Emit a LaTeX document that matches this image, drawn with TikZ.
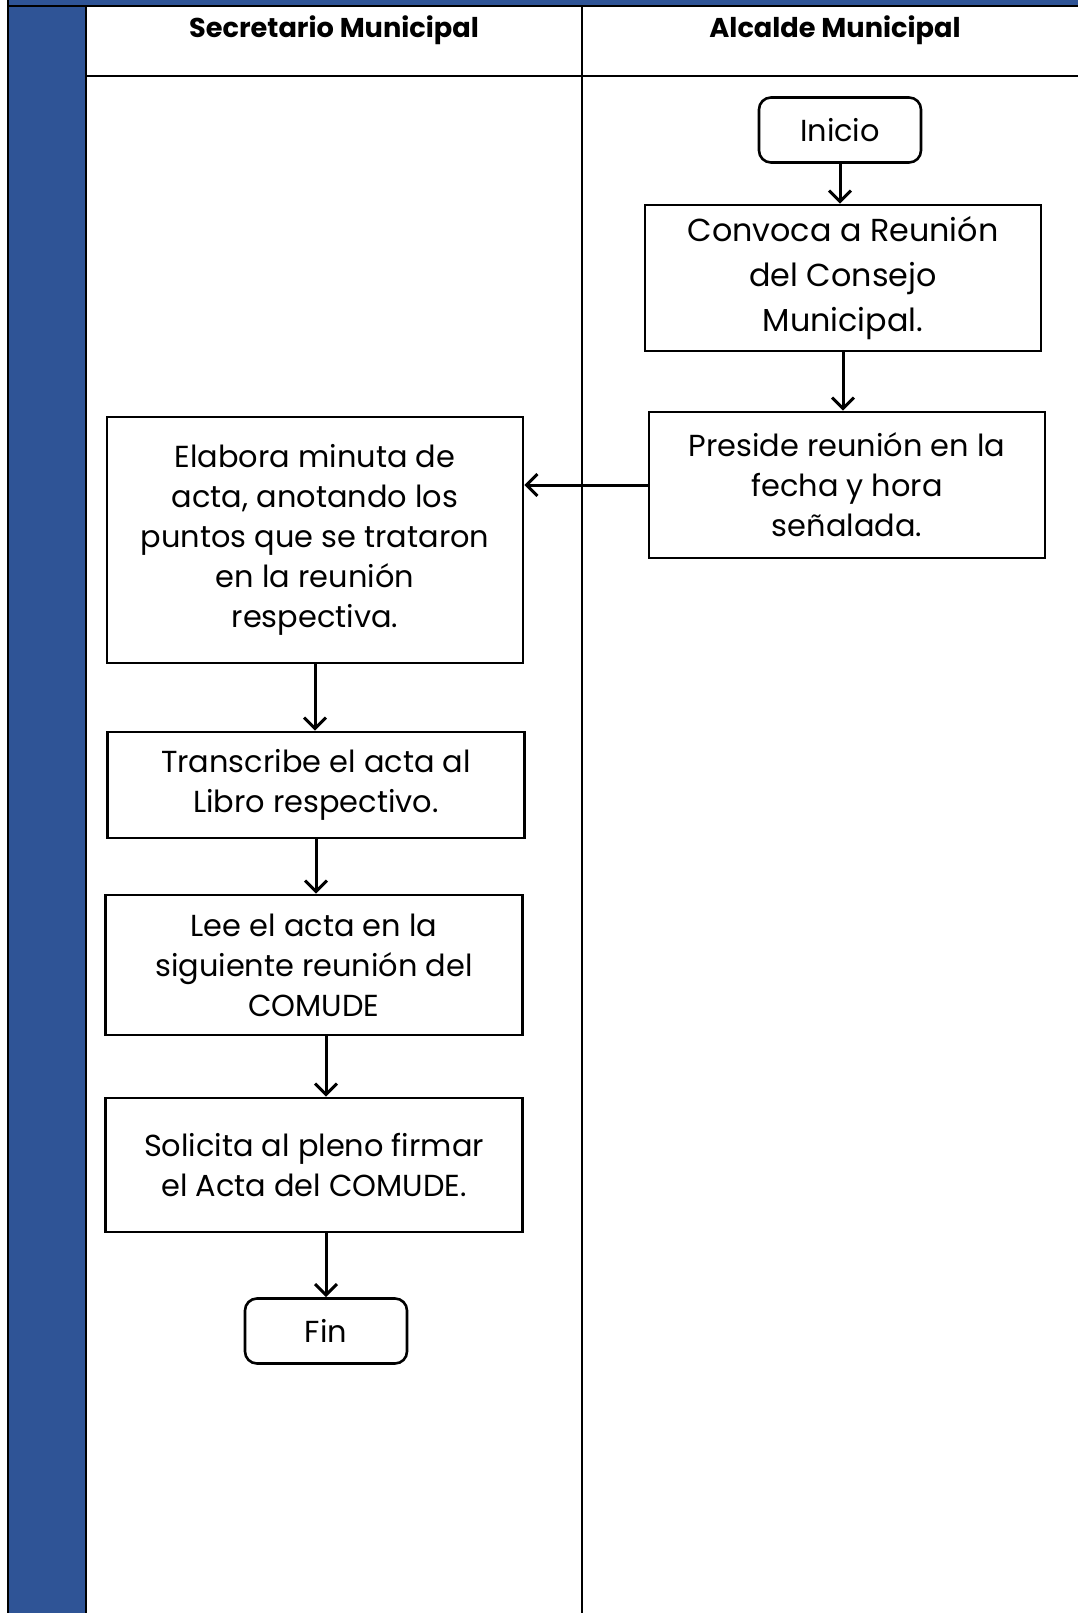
\documentclass[tikz,border=0pt]{standalone}
\usepackage{fontspec}
\setmainfont{Poppins}
\usetikzlibrary{arrows.meta}
\definecolor{azul}{RGB}{47,84,150}
\begin{document}
\begin{tikzpicture}[x=0.5pt,y=-0.5pt
	,paso/.style={
	rectangle
	,draw
	,line width=1.3pt
	,align=center
	,inner sep=0
	,font=\fontsize{15.2}{20}\selectfont
}
	,limite/.style={
	paso
	,rounded corners=6pt
	,minimum width=81pt
	,minimum height=32.5pt
}
	,carril/.style={
	font=\bfseries\fontsize{13.6}{16}\selectfont
}
	,flujo/.style={
	-{Straight Barb[length=5.5pt,width=11pt,line width=1.5pt]}
	,line width=1.5pt
}
	,linea/.style={line width=1.1pt}
]

\useasboundingbox (0,0) rectangle (1078,1613);

\fill[azul] (8,0) rectangle (1078,6);
\fill[azul] (8,6) rectangle (86,1613);
\draw[linea] (8,0) -- (8,1613);
\draw[linea] (8,6) -- (1078,6);
\draw[linea] (86,6) -- (86,1613);
\draw[linea] (582,6) -- (582,1613);
\draw[linea] (86,76) -- (1078,76);

\node[carril](sec) at(334,30) {Secretario Municipal};
\node[carril](alc) at(835,30) {Alcalde Municipal};

\node[limite](ini) at(840,130) {Inicio};
\node[paso, minimum width=198pt, minimum height=73pt
	,font=\fontsize{15.9}{22.5}\selectfont](conv) at(843,278) {Convoca a Reunión\\del Consejo\\Municipal.};
\node[paso, minimum width=198pt, minimum height=73pt](pres) at(847,485) {Preside reunión en la\\fecha y hora\\señalada.};
\node[paso, minimum width=208pt, minimum height=123pt](elab) at(315,540) {Elabora minuta de\\acta, anotando los\\puntos que se trataron\\en la reunión\\respectiva.};
\node[paso, minimum width=208.5pt, minimum height=53pt](trans) at(316,785) {Transcribe el acta al\\Libro respectivo.};
\node[paso, minimum width=208.5pt, minimum height=70pt](lee) at(314,965) {Lee el acta en la\\siguiente reunión del\\COMUDE};
\node[paso, minimum width=208.5pt, minimum height=67pt](sol) at(314,1165) {Solicita al pleno firmar\\el Acta del COMUDE.};
\node[limite](fin) at(326,1331) {Fin};

\draw[flujo] (ini.south) -- (ini.south |- conv.north);
\draw[flujo] (conv.south) -- (conv.south |- pres.north);
\draw[flujo] (pres.west) -- (pres.west -| elab.east);
\draw[flujo] (elab.south) -- (elab.south |- trans.north);
\draw[flujo] (trans.south) -- (trans.south |- lee.north);
\draw[flujo] (lee.south -| fin.north) -- (sol.north -| fin.north);
\draw[flujo] (sol.south -| fin.north) -- (fin.north);

\end{tikzpicture}
\end{document}
